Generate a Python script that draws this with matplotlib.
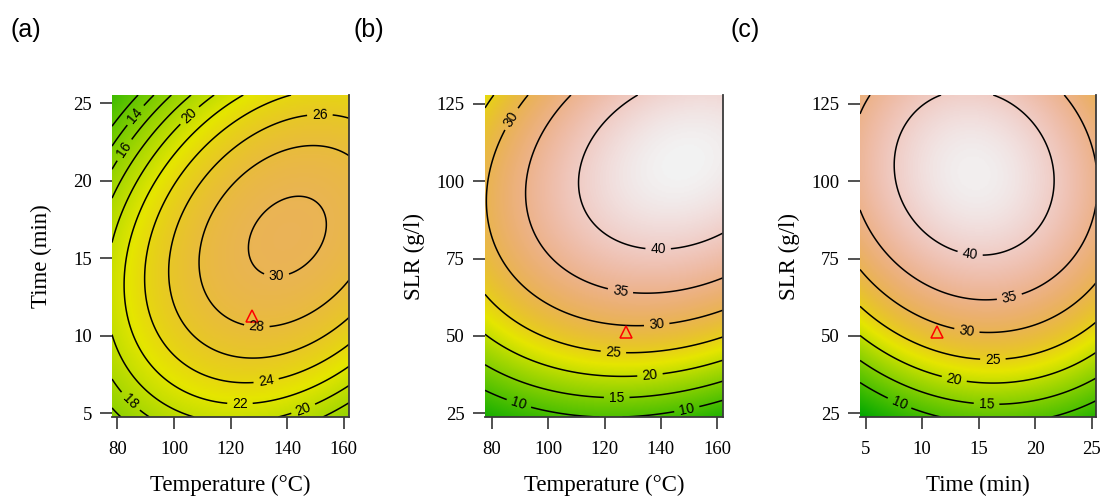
import numpy as np
import matplotlib
matplotlib.use("Agg")
import matplotlib.pyplot as plt
from matplotlib.colors import ListedColormap, Normalize, hsv_to_rgb

# fitted second-order model, coded units: b0, b1, b2, b11, b22, b12
coef_temp_time = [29.45, 3.974, 0.527, -4.458, -7.920, 3.455]
coef_temp_slr = [38.094, 4.424, 13.854, -4.832, -13.231, 3.784]
coef_time_slr = [39.68, 0.415, 14.237, -7.3, -12.891, -1.8]

# coding of each factor: centre, half range
temp_code = (120, 40)
time_code = (15, 10)
slr_code = (75, 50)

levels_a = [12, 14, 16, 18, 20, 22, 24, 26, 28, 30]
levels_b = [10, 15, 20, 25, 30, 35, 40]
levels_c = [10, 15, 20, 25, 30, 35, 40]

# optimum point (red triangle)
opt_temp = 127.6
opt_time = 11.3
opt_slr = 51.4

temp_ticks = [80, 100, 120, 140, 160]
time_ticks = [5, 10, 15, 20, 25]
slr_ticks = [25, 50, 75, 100, 125]


def terrain(n=256):
    # same ramp as R's terrain.colors
    k = n // 2
    h = np.r_[np.linspace(4/12, 2/12, k), np.linspace(2/12, 0, n - k + 1)[1:]]
    s = np.r_[np.ones(k), np.linspace(1, 0, n - k + 1)[1:]]
    v = np.r_[np.linspace(0.65, 0.9, k), np.linspace(0.9, 0.95, n - k + 1)[1:]]
    return ListedColormap(hsv_to_rgb(np.column_stack([h, s, v])))


def surface(coef, x, y, xcode, ycode):
    u = (x - xcode[0]) / xcode[1]
    v = (y - ycode[0]) / ycode[1]
    b0, b1, b2, b11, b22, b12 = coef
    return b0 + b1*u + b2*v + b11*u**2 + b22*v**2 + b12*u*v


panels = [
    dict(coef=coef_temp_time, xc=temp_code, yc=time_code, xlim=(78.1, 161.8), ylim=(4.76, 25.54),
         levels=levels_a, xt=temp_ticks, yt=time_ticks, opt=(opt_temp, opt_time),
         xlab='Temperature (°C)', ylab='Time (min)', rect=[112, 95, 237, 322], tag='(a)', tagx=10,
         lab=[(87.9, 24.0), (83.2, 21.9), (106.1, 24.1), (151.5, 24.4), (136.2, 13.5),
              (129.2, 10.5), (132.7, 6.9), (123.3, 5.3), (145.6, 5.3), (83.2, 5.5)]),
    dict(coef=coef_temp_slr, xc=temp_code, yc=slr_code, xlim=(77.6, 162.0), ylim=(23.8, 127.9),
         levels=levels_b, xt=temp_ticks, yt=slr_ticks, opt=(opt_temp, opt_slr),
         xlab='Temperature (°C)', ylab='SLR (g/l)', rect=[485, 95, 238, 322], tag='(b)', tagx=353,
         lab=[(86.5, 120.4), (139, 77.8), (125.5, 63.8), (138.5, 53.5), (123.1, 44.4),
              (136.1, 37.4), (124.3, 29.9), (90, 29.3), (149.1, 26.6)]),
    dict(coef=coef_time_slr, xc=time_code, yc=slr_code, xlim=(4.5, 25.38), ylim=(23.8, 127.9),
         levels=levels_c, xt=time_ticks, yt=slr_ticks, opt=(opt_time, opt_slr),
         xlab='Time (min)', ylab='SLR (g/l)', rect=[860, 95, 236, 322], tag='(c)', tagx=730,
         lab=[(14.2, 75.6), (17.74, 62.2), (13.9, 50.3), (16.26, 41.2), (12.73, 34.1),
              (15.68, 26.6), (7.74, 26.1)]),
]

W, H = 1106, 499
fig = plt.figure(figsize=(W/100, H/100), dpi=100)

grids = []
for p in panels:
    x = np.linspace(p['xlim'][0], p['xlim'][1], 240)
    y = np.linspace(p['ylim'][0], p['ylim'][1], 240)
    X, Y = np.meshgrid(x, y)
    grids.append((X, Y, surface(p['coef'], X, Y, p['xc'], p['yc'])))

zmin = min(g[2].min() for g in grids)
zmax = max(g[2].max() for g in grids)
norm = Normalize(zmin, zmax)
cmap = terrain()

for p, (X, Y, Z) in zip(panels, grids):
    l, t, w, h = p['rect']
    ax = fig.add_axes([l/W, 1 - (t + h)/H, w/W, h/H])
    ax.imshow(Z, extent=[*p['xlim'], *p['ylim']], origin='lower', aspect='auto',
              cmap=cmap, norm=norm, interpolation='bilinear')
    cs = ax.contour(X, Y, Z, levels=p['levels'], colors='black', linewidths=1.1)
    lbls = ax.clabel(cs, fmt='%d', fontsize=10, inline=True, inline_spacing=4, manual=p['lab'])
    for tx in lbls:
        tx.set_family('Liberation Sans')
    ax.plot(*p['opt'], marker='^', ms=9, mfc='none', mec='red', mew=1.1, ls='none')
    ax.set_xlim(p['xlim'])
    ax.set_ylim(p['ylim'])
    ax.set_xticks(p['xt'])
    ax.set_yticks(p['yt'])
    for side in ['top', 'left']:
        ax.spines[side].set_visible(False)
    for side in ['bottom', 'right']:
        ax.spines[side].set_color('#3a3a3a')
        ax.spines[side].set_linewidth(1.3)
    ax.tick_params(direction='out', length=8.5, width=1.1, color='#222222', labelsize=13.5)
    ax.tick_params(axis='x', pad=8.5)
    ax.tick_params(axis='y', pad=6)
    for tl in ax.get_xticklabels() + ax.get_yticklabels():
        tl.set_family('Liberation Serif')
    ax.set_xlabel(p['xlab'], fontsize=16.5, family='Liberation Serif')
    ax.set_ylabel(p['ylab'], fontsize=16.5, family='Liberation Serif')
    ax.xaxis.set_label_coords(0.5, -58/h)
    ax.yaxis.set_label_coords(-60/w, 0.5)
    fig.text(p['tagx']/W, 1 - 30/H, p['tag'], fontsize=18, family='Liberation Sans',
             ha='left', va='center')

fig.savefig('out.png', dpi=100)
